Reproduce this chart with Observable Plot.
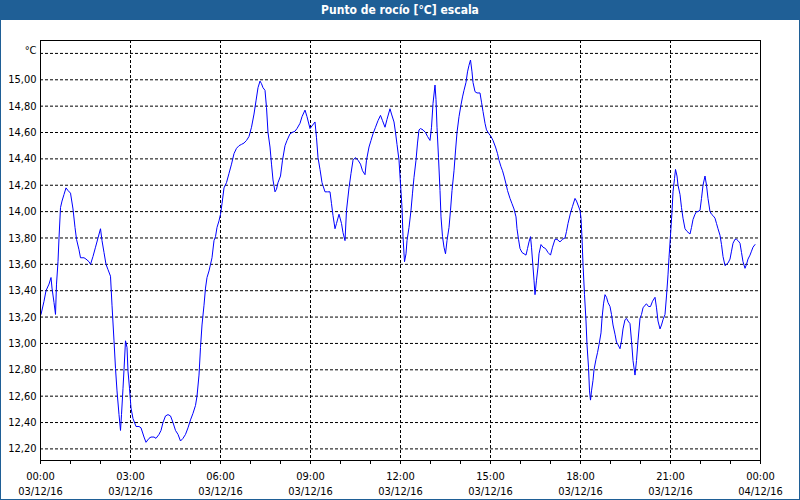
<!DOCTYPE html>
<html><head><meta charset="utf-8">
<script src="https://cdn.jsdelivr.net/npm/d3@7"></script>
<script src="https://cdn.jsdelivr.net/npm/@observablehq/plot@0.6"></script>
<style>
html,body{margin:0;padding:0;background:#fff;}
#win{position:relative;width:798px;height:499px;border-left:1px solid #1f5f96;border-right:1px solid #1f5f96;border-bottom:1px solid #1f5f96;background:#fff;overflow:hidden;font-family:"DejaVu Sans Condensed","Liberation Sans",sans-serif;}
#title{height:20px;line-height:20px;background:#1f5f96;color:#fff;font-weight:bold;font-size:12px;text-align:center;margin:0 -1px;}
#chart svg{display:block;}
</style></head>
<body>
<div id="win"><div id="title">Punto de rocío [°C] escala</div><div id="chart"></div></div>
<script>
// minutes after 00:00 on 03/12/16
const minutes = [
1,7,11,17,21,23,27,30,32,35,37,40,43,47,51,55,60,65,69,72,77,80,87,91,97,100,105,110,115,120,123,127,131,135,140,143,147,150,153,157,160,162,165,167,170,173,175,178,181,185,191,197,201,207,211,217,221,227,231,237,241,245,250,255,260,265,270,275,280,285,290,295,300,305,310,313,317,320,323,327,330,333,337,340,343,347,350,353,357,
360,363,367,372,377,382,387,392,397,402,407,412,417,422,427,431,435,439,442,445,449,452,455,459,462,465,469,472,475,480,484,489,493,499,503,509,513,519,523,529,533,539,543,549,552,555,559,563,569,574,579,582,585,589,592,597,602,605,609,612,617,621,625,630,635,640,644,649,652,657,661,665,670,675,680,684,689,693,699,702,707,710,713,717,
720,723,725,728,731,733,737,741,744,747,751,754,757,760,765,770,774,779,782,785,789,791,793,796,799,801,804,807,810,813,817,820,823,827,830,833,837,841,844,847,851,854,857,860,863,865,869,873,879,882,885,889,892,897,901,905,910,914,917,921,924,927,931,934,939,943,947,951,953,956,959,963,967,971,974,977,980,982,985,987,989,992,995,997,1001,1005,1010,1015,1020,1024,1029,1033,1039,
1044,1049,1052,1055,1060,1064,1069,1072,1075,1079,1081,1083,1085,1088,1091,1093,1096,1098,1100,1102,1105,1107,1111,1114,1117,1121,1123,1126,1129,1132,1135,1139,1142,1145,1149,1152,1155,1159,1162,1165,1169,1172,1175,1179,1182,1185,1189,1192,1195,1199,1202,1205,1209,1212,1216,1220,1224,1229,1232,1235,1239,1242,1245,1249,1252,1255,1257,1260,1263,1265,1268,1270,1273,1275,1279,1282,1285,1289,1293,1299,1302,1305,1309,1312,1315,1319,1322,1325,1329,1332,1335,1339,1342,1345,1349,1352,1355,1359,1362,1365,1369,1372,1375,1379,1382,1385,1389,1392,1395,1399,1402,1405,1409,1412,1415,1419,1422,1425,1429
];
// dew point, °C
const dewPoint = [
13.22,13.32,13.40,13.45,13.50,13.42,13.31,13.22,13.45,13.62,13.80,14.03,14.08,14.13,14.18,14.16,14.14,14.02,13.88,13.79,13.71,13.65,13.65,13.64,13.62,13.60,13.66,13.73,13.80,13.87,13.78,13.69,13.60,13.56,13.51,13.29,13.02,12.81,12.64,12.46,12.34,12.46,12.66,12.80,13.02,12.97,12.79,12.66,12.51,12.43,12.37,12.37,12.36,12.29,12.25,12.28,12.29,12.29,12.28,12.31,12.34,12.40,12.45,12.46,12.45,12.40,12.34,12.31,12.26,12.28,12.31,12.36,12.42,12.47,12.53,12.60,12.76,12.97,13.14,13.29,13.42,13.50,13.55,13.60,13.65,13.78,13.81,13.88,13.93,
13.98,14.06,14.18,14.22,14.29,14.36,14.44,14.48,14.50,14.51,14.52,14.54,14.57,14.64,14.74,14.84,14.94,14.99,14.97,14.94,14.92,14.79,14.60,14.49,14.36,14.24,14.15,14.17,14.22,14.27,14.39,14.50,14.54,14.59,14.60,14.61,14.63,14.67,14.72,14.77,14.72,14.63,14.65,14.68,14.56,14.41,14.32,14.22,14.15,14.15,14.15,14.06,13.97,13.87,13.91,13.98,13.91,13.84,13.78,14.01,14.18,14.29,14.39,14.41,14.39,14.36,14.31,14.28,14.39,14.49,14.54,14.59,14.64,14.69,14.73,14.69,14.64,14.70,14.78,14.74,14.68,14.60,14.51,14.39,
14.21,14.03,13.81,13.62,13.68,13.78,13.88,14.01,14.14,14.26,14.39,14.52,14.62,14.63,14.62,14.60,14.57,14.54,14.64,14.82,14.96,14.85,14.64,14.41,14.16,13.96,13.81,13.73,13.68,13.78,13.88,14.01,14.16,14.31,14.46,14.60,14.72,14.81,14.87,14.92,14.98,15.06,15.11,15.15,15.06,14.98,14.91,14.90,14.90,14.83,14.76,14.67,14.62,14.59,14.57,14.54,14.49,14.44,14.39,14.34,14.31,14.27,14.21,14.16,14.10,14.06,14.02,13.96,13.87,13.79,13.72,13.69,13.68,13.67,13.72,13.77,13.81,13.73,13.58,13.48,13.37,13.48,13.58,13.68,13.75,13.73,13.72,13.69,13.67,13.73,13.79,13.79,13.77,
13.79,13.80,13.85,13.91,13.99,14.04,14.10,14.08,14.05,14.01,13.95,13.80,13.60,13.37,13.17,12.99,12.82,12.64,12.57,12.64,12.72,12.80,12.88,12.93,12.99,13.08,13.19,13.30,13.37,13.35,13.31,13.28,13.22,13.14,13.07,13.01,12.99,12.96,13.02,13.11,13.18,13.19,13.17,13.15,13.02,12.87,12.76,12.87,13.02,13.19,13.22,13.27,13.29,13.30,13.28,13.28,13.32,13.35,13.27,13.17,13.11,13.14,13.18,13.22,13.36,13.52,13.65,13.82,14.00,14.15,14.25,14.32,14.27,14.20,14.13,14.03,13.95,13.87,13.85,13.83,13.88,13.94,13.98,14.00,14.00,14.01,14.10,14.20,14.27,14.20,14.10,14.00,13.98,13.97,13.95,13.91,13.87,13.82,13.75,13.66,13.59,13.60,13.61,13.64,13.70,13.76,13.79,13.79,13.78,13.76,13.69,13.62,13.57,13.60,13.64,13.67,13.70,13.73,13.75
];
const tickTimes = ["00:00","03:00","06:00","09:00","12:00","15:00","18:00","21:00","00:00"];
const tickDates = ["03/12/16","03/12/16","03/12/16","03/12/16","03/12/16","03/12/16","03/12/16","03/12/16","04/12/16"];
const yTickValues = [12.2,12.4,12.6,12.8,13.0,13.2,13.4,13.6,13.8,14.0,14.2,14.4,14.6,14.8,15.0];
const yGridValues = [...yTickValues, 15.2];
const unitLabel = "°C";

const data = minutes.map((m, i) => ({m, v: dewPoint[i]}));
const majorTicks = tickTimes.map((_, i) => i * 180);
const hourTicks = d3.range(0, 1441, 60);
const innerGrid = majorTicks.slice(1, -1);
const font = '"DejaVu Sans Condensed","Liberation Sans",sans-serif';

const chart = Plot.plot({
  width: 798,
  height: 479,
  marginLeft: 39,
  marginRight: 39,
  marginTop: 20,
  marginBottom: 39,
  style: {fontFamily: font, fontSize: "11px", background: "#fff", color: "#000", overflow: "visible"},
  x: {type: "linear", domain: [0, 1440], axis: null},
  y: {domain: [12.112, 15.298], axis: null},
  marks: [
    Plot.gridY(yGridValues, {stroke: "#000", strokeOpacity: 1, strokeDasharray: "3,2"}),
    Plot.gridX(innerGrid, {stroke: "#000", strokeOpacity: 1, strokeDasharray: "3,2"}),
    Plot.line(data, {x: "m", y: "v", stroke: "#0000ff", strokeWidth: 1}),
    Plot.frame({stroke: "#000"}),
    Plot.axisY(yTickValues, {tickSize: 0, tickPadding: 4, label: null, fontSize: 11,
      tickFormat: d => d.toFixed(2).replace(".", ",")}),
    Plot.axisX(hourTicks, {tickSize: 4, label: null, tickFormat: () => ""}),
    Plot.axisX(majorTicks, {tickSize: 0, tickPadding: 9, label: null, fontSize: 11, lineHeight: 1.36,
      tickFormat: d => tickTimes[d / 180] + "\n" + tickDates[d / 180]}),
    Plot.text([unitLabel], {frameAnchor: "top-left", dx: -4, dy: 6, textAnchor: "end", fontSize: 11, fill: "#000"})
  ]
});
document.getElementById("chart").appendChild(chart);
</script>
</body></html>
